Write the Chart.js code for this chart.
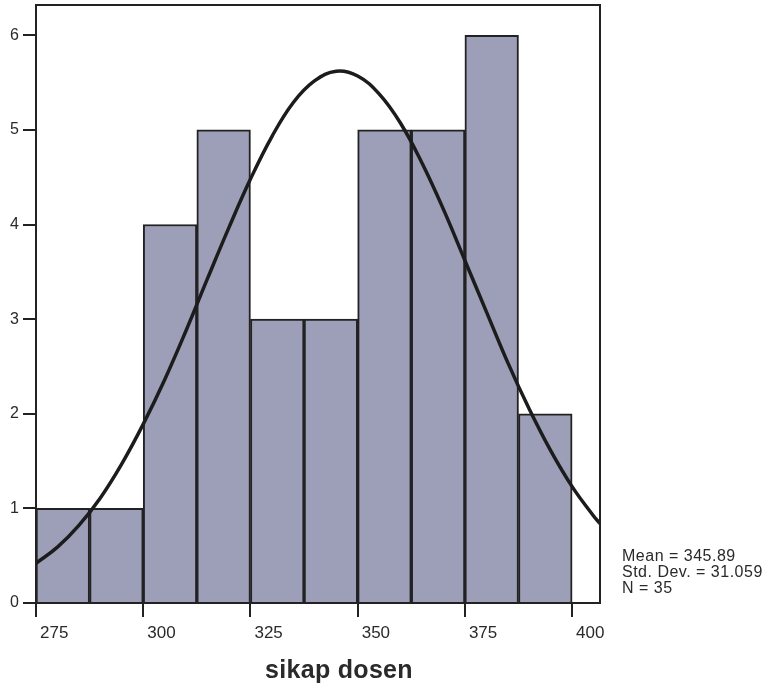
<!DOCTYPE html>
<html>
<head>
<meta charset="utf-8">
<script src="https://cdn.jsdelivr.net/npm/chart.js@4/dist/chart.umd.min.js"></script>
<style>
  html, body { margin: 0; padding: 0; background: #fff; }
  #wrap { width: 771px; height: 690px; }
</style>
</head>
<body>
<div id="wrap"><canvas id="histChart" width="771" height="690"></canvas></div>
<script>
// histogram bins (midpoints, width 12.5) and counts
const binCenters = [281.25, 293.75, 306.25, 318.75, 331.25, 343.75, 356.25, 368.75, 381.25, 393.75];
const binCounts = [1, 1, 4, 5, 3, 3, 5, 5, 6, 2];

// normal curve
const curveX = [275, 280, 285, 290, 295, 300, 305, 310, 315, 320, 325, 330, 335, 340, 345,
                350, 355, 360, 365, 370, 375, 380, 385, 390, 395, 400, 405, 406.5];
const curveY = [0.42, 0.59, 0.82, 1.11, 1.47, 1.89, 2.36, 2.88, 3.43, 3.97, 4.48, 4.93, 5.29, 5.52, 5.62,
                5.57, 5.38, 5.07, 4.65, 4.16, 3.62, 3.08, 2.54, 2.05, 1.61, 1.23, 0.92, 0.84];

const xTicks = [275, 300, 325, 350, 375, 400];
const yTicks = [0, 1, 2, 3, 4, 5, 6];

const statLines = ['Mean = 345.89', 'Std. Dev. = 31.059', 'N = 35'];
const xTitle = 'sikap dosen';

const fontFamily = '"Liberation Sans", Arial, sans-serif';

const framePlugin = {
    id: 'frame',
    afterDraw(chart) {
        const ctx = chart.ctx;
        const a = chart.chartArea;
        ctx.save();
        ctx.strokeStyle = '#222';
        ctx.lineWidth = 2;
        ctx.strokeRect(a.left, a.top, a.right - a.left, a.bottom - a.top);

        // stats box text
        ctx.fillStyle = '#2a2a2a';
        ctx.font = '16px ' + fontFamily;
        ctx.letterSpacing = '0.5px';
        ctx.textBaseline = 'middle';
        statLines.forEach((line, i) => {
            ctx.fillText(line, 622, 557 + i * 16);
        });

        // axis title
        ctx.letterSpacing = '0.3px';
        ctx.font = 'bold 25px ' + fontFamily;
        ctx.textAlign = 'center';
        ctx.textBaseline = 'alphabetic';
        ctx.fillText(xTitle, 339, 678);
        ctx.restore();
    }
};

const ctx = document.getElementById('histChart');

new Chart(ctx, {
    data: {
        datasets: [
            {
                type: 'line',
                data: curveX.map((x, i) => ({ x: x, y: curveY[i] })),
                borderColor: '#1c1c1c',
                borderWidth: 3.5,
                pointRadius: 0,
                tension: 0.4,
                fill: false,
                order: 0
            },
            {
                type: 'bar',
                data: binCenters.map((x, i) => ({ x: x, y: binCounts[i] })),
                backgroundColor: '#9d9fb8',
                borderColor: '#222',
                borderWidth: 2,
                barPercentage: 1,
                categoryPercentage: 1,
                order: 1
            }
        ]
    },
    options: {
        responsive: false,
        animation: false,
        layout: { padding: { top: 5, right: 171, left: 0, bottom: 0 } },
        plugins: {
            legend: { display: false },
            tooltip: { enabled: false }
        },
        scales: {
            x: {
                type: 'linear',
                offset: false,
                min: 275,
                max: 406.5,
                afterBuildTicks: function(axis) {
                    axis.ticks = xTicks.map(v => ({ value: v }));
                },
                afterFit: function(axis) {
                    axis.height = 87;
                    axis.paddingLeft = 0;
                    axis.paddingRight = 0;
                },
                grid: { offset: false, drawOnChartArea: false, tickLength: 14, color: '#222', lineWidth: 2 },
                border: { color: '#222', width: 2 },
                ticks: {
                    color: '#2a2a2a',
                    font: { family: fontFamily, size: 17 },
                    padding: 6,
                    align: 'start',
                    labelOffset: 4,
                    maxRotation: 0
                }
            },
            y: {
                min: 0,
                max: 6.32,
                afterBuildTicks: function(axis) {
                    axis.ticks = yTicks.map(v => ({ value: v }));
                },
                afterFit: function(axis) {
                    axis.width = 36;
                    axis.paddingTop = 0;
                    axis.paddingBottom = 0;
                },
                grid: { drawOnChartArea: false, tickLength: 13, color: '#222', lineWidth: 2 },
                border: { color: '#222', width: 2 },
                ticks: {
                    color: '#2a2a2a',
                    font: { family: fontFamily, size: 16 },
                    padding: 4
                }
            }
        }
    },
    plugins: [framePlugin]
});
</script>
</body>
</html>
